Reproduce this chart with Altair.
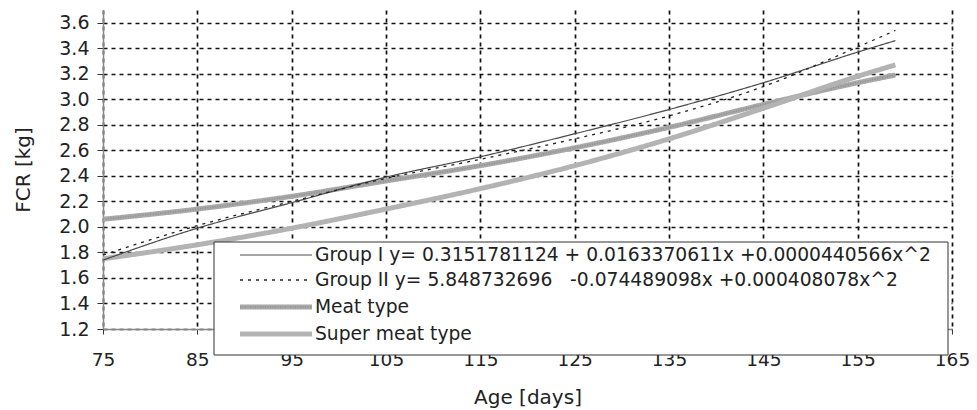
import altair as alt
import pandas as pd

ages = [75, 85, 95, 105, 115, 125, 135, 145, 155, 159]
group1 = [1.74, 1.99, 2.19, 2.39, 2.55, 2.73, 2.92, 3.13, 3.37, 3.46]
group2 = [1.78, 2.01, 2.20, 2.38, 2.53, 2.69, 2.87, 3.10, 3.41, 3.54]
meat = [2.06, 2.14, 2.24, 2.36, 2.48, 2.62, 2.78, 2.96, 3.13, 3.19]
super_meat = [1.75, 1.86, 1.99, 2.14, 2.30, 2.48, 2.69, 2.93, 3.18, 3.27]

labels = [
    "Group I y= 0.3151781124 + 0.0163370611x +0.0000440566x^2",
    "Group II y= 5.848732696\u00a0\u00a0\u00a0-0.074489098x +0.000408078x^2",
    "Meat type",
    "Super meat type",
]

x_ticks = [75, 85, 95, 105, 115, 125, 135, 145, 155, 165]
y_ticks = [1.2, 1.4, 1.6, 1.8, 2.0, 2.2, 2.4, 2.6, 2.8, 3.0, 3.2, 3.4, 3.6]

rows = []
for lab, vals in zip(labels, [group1, group2, meat, super_meat]):
    for a, v in zip(ages, vals):
        rows.append({"age": a, "fcr": v, "series": lab})
df = pd.DataFrame(rows)

FONT = "DejaVu Sans"
TXT = "#222222"

# line styles: (color, width, dash)
styles = {
    labels[0]: ("#4a4a4a", 1.2, [1, 0]),
    labels[1]: ("#222222", 1.3, [3, 5]),
    labels[2]: ("#a8a8a8", 5, [1, 0]),
    labels[3]: ("#b3b3b3", 5, [1, 0]),
}
meat_texture = ("#8f8f8f", 1.6, [1, 1.5])

xaxis = alt.Axis(values=x_ticks, title="Age [days]", labelFontSize=18.5,
                 labelFont=FONT, labelColor=TXT, tickColor="#333333",
                 tickSize=5, labelPadding=16, labelFlush=False, domainColor="#888888",
                 domainWidth=1.5, grid=True, gridColor="#111111",
                 gridDash=[4, 4], gridWidth=1.7, titleFont=FONT,
                 titleFontSize=20, titleFontWeight="normal",
                 titleColor=TXT, titlePadding=19, zindex=0)
yaxis = alt.Axis(values=y_ticks, format=".1f", title="FCR [kg]",
                 labelFontSize=19, labelFont=FONT, labelColor=TXT,
                 tickColor="#333333", tickSize=6, labelPadding=8, labelFlush=False,
                 domainColor="#888888", domainWidth=1.5, grid=True,
                 gridColor="#111111", gridDash=[4, 4], gridWidth=1.7,
                 titleFont=FONT, titleFontSize=20, titleFontWeight="normal",
                 titleColor=TXT, titlePadding=25, zindex=0)

base = alt.Chart(df).encode(
    x=alt.X("age:Q", scale=alt.Scale(domain=[75, 165], nice=False, zero=False), axis=xaxis),
    y=alt.Y("fcr:Q", scale=alt.Scale(domain=[1.2, 3.7], nice=False, zero=False), axis=yaxis),
)

def series_layer(lab, style):
    c, w, d = style
    return base.transform_filter(alt.datum.series == lab).mark_line(
        interpolate="monotone", color=c, strokeWidth=w, strokeDash=d, strokeCap="butt")

layers = [
    series_layer(labels[2], styles[labels[2]]),
    series_layer(labels[2], meat_texture),
    series_layer(labels[3], styles[labels[3]]),
    series_layer(labels[0], styles[labels[0]]),
    series_layer(labels[1], styles[labels[1]]),
]

# legend box (pixel layout relative to plot origin)
one = pd.DataFrame({"k": [0]})
LX0, LX1, LY0, LY1 = 111, 845, 232, 345
row_y = [245, 270, 297, 324]
SX0, SX1, TX = 137, 209, 212

layers.append(alt.Chart(one).mark_rect(fill="white", stroke="#333333", strokeWidth=1).encode(
    x=alt.value(LX0), x2=alt.value(LX1), y=alt.value(LY0), y2=alt.value(LY1)))

leg_styles = [styles[labels[0]], styles[labels[1]], styles[labels[2]], styles[labels[3]]]
for i, (lab, (c, w, d)) in enumerate(zip(labels, leg_styles)):
    yy = row_y[i]
    layers.append(alt.Chart(one).mark_rule(color=c, strokeWidth=w, strokeDash=d, strokeCap="butt").encode(
        x=alt.value(SX0), x2=alt.value(SX1), y=alt.value(yy)))
    if i == 2:
        c2, w2, d2 = meat_texture
        layers.append(alt.Chart(one).mark_rule(color=c2, strokeWidth=w2, strokeDash=d2, strokeCap="butt").encode(
            x=alt.value(SX0), x2=alt.value(SX1), y=alt.value(yy)))
    layers.append(alt.Chart(one).mark_text(align="left", baseline="middle", font=FONT,
                                          fontSize=18.7, color=TXT).encode(
        x=alt.value(TX), y=alt.value(yy), text=alt.value(lab)))

chart = alt.layer(*layers).properties(
    width=849, height=319,
    autosize=alt.AutoSizeParams(type="none"),
    padding={"left": 95, "top": 2, "right": 17, "bottom": 81},
    background="white",
).configure_view(stroke=None)

chart.save("out.html", embed_options={"renderer": "svg", "actions": False})
